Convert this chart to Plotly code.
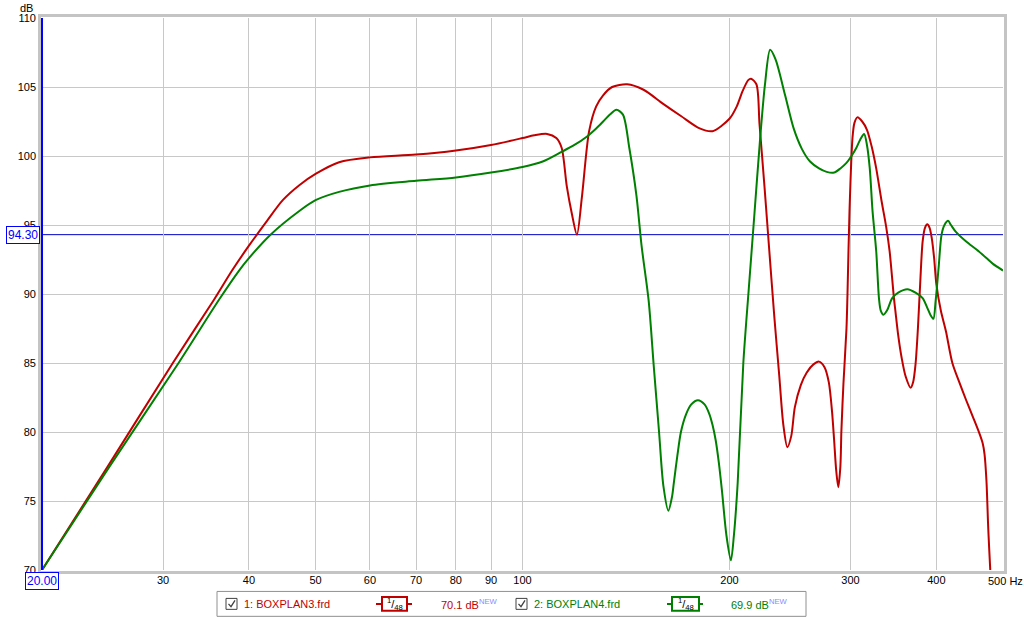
import plotly.graph_objects as go

# ---------------- data ----------------
red_freq = [20, 25, 31.0, 35.6, 37.8, 40, 42.5, 44.8, 47.4, 50, 54.1, 60, 70, 80, 90, 100, 104, 108.6,
            112, 114, 116, 118, 120, 122, 125, 128, 131, 135, 142, 150, 160, 170, 181, 189, 200, 205,
            209, 213, 215, 218.9, 221.2, 224.9, 228.6, 232.4, 236.3, 239.6, 242.8, 246, 249, 254, 259,
            265, 270, 275, 279, 282, 284, 286, 288, 290, 291, 293, 296, 297, 299, 302, 304, 307, 312,
            317, 322, 327, 333, 338, 342, 347, 349, 352, 356, 361, 367, 370, 373, 376, 379, 382, 385,
            388, 391, 394, 397, 400, 406, 413, 422, 432, 442, 452, 462, 467, 470, 473, 476, 479, 482]
red_db = [70.0, 77.6, 85.0, 89.6, 91.7, 93.5, 95.3, 96.8, 97.9, 98.7, 99.55, 99.9, 100.1, 100.4, 100.8,
          101.3, 101.5, 101.6, 101.3, 100.6, 97.8, 95.8, 94.3, 97.0, 101.8, 103.6, 104.4, 105.0, 105.2,
          104.8, 103.8, 102.9, 102.0, 101.8, 102.7, 103.6, 104.7, 105.5, 105.6, 105.2, 102.3, 97.8,
          93.1, 88.4, 84.1, 80.5, 78.9, 79.7, 81.8, 83.4, 84.3, 84.9, 85.1, 84.7, 83.6, 81.5, 79.4,
          77.2, 76.0, 77.5, 80.1, 83.5, 87.5, 90.0, 96.0, 101.3, 102.4, 102.8, 102.5, 101.9, 100.7,
          99.1, 96.7, 94.9, 93.1, 89.7, 88.6, 87.0, 85.4, 84.0, 83.2, 83.6, 84.9, 87.5, 90.9, 93.8,
          94.8, 95.05, 94.8, 94.0, 92.6, 90.7, 88.8, 87.3, 85.0, 83.6, 82.3, 81.1, 79.9, 79.2, 78.4,
          76.5, 72.9, 70.1, 67.5]

green_freq = [20, 25, 31.6, 36.2, 38.7, 40, 43.0, 47.3, 50, 54.1, 60, 70, 80, 90, 100, 107, 114, 119,
              124, 128, 131, 134, 137, 140, 143, 146.5, 149, 152.6, 155.2, 158, 160.3, 163, 165, 166,
              168, 170, 173, 176, 180, 184, 187, 189, 191, 193, 195, 198, 201, 203, 205.6, 209.5,
              213.4, 217.5, 221.6, 225.3, 229.2, 233.4, 241, 248, 255, 262, 270, 277, 284, 290, 296,
              301, 306, 310, 314, 317, 320, 323, 327, 330, 332, 335, 339, 345, 352, 363, 373, 382,
              388, 392, 396, 399, 403, 407, 411, 416, 420, 427, 442, 458, 473, 483, 500]
green_db = [70.0, 77.4, 85.0, 89.6, 91.7, 92.6, 94.3, 96.0, 96.8, 97.4, 97.87, 98.2, 98.45, 98.8, 99.2,
            99.6, 100.3, 100.8, 101.4, 102.0, 102.5, 103.0, 103.35, 103.0, 100.6, 97.1, 93.5, 89.5,
            84.8, 80.0, 76.1, 74.3, 75.3, 76.3, 78.3, 80.0, 81.3, 82.0, 82.3, 82.0, 81.3, 80.5, 79.4,
            77.8, 75.8, 72.5, 70.7, 72.5, 76.3, 84.95, 90.4, 95.85, 101.2, 105.2, 107.7, 107.0, 104.4,
            102.0, 100.5, 99.6, 99.1, 98.85, 98.8, 99.1, 99.5, 100.0, 100.6, 101.2, 101.6, 100.8,
            99.1, 96.0, 93.1, 89.7, 88.8, 88.5, 88.8, 89.7, 90.1, 90.35, 90.1, 89.7, 89.0, 88.5, 88.2,
            89.5, 91.9, 94.3, 95.0, 95.3, 95.0, 94.5, 93.8, 93.2, 92.6, 92.2, 91.7]

x_ticks = [30, 40, 50, 60, 70, 80, 90, 100, 200, 300, 400]
y_ticks = [70, 75, 80, 85, 90, 95, 100, 105, 110]
marker_level = 94.30
red_name = "1: BOXPLAN3.frd"
green_name = "2: BOXPLAN4.frd"
red_level = "70.1 dB"
green_level = "69.9 dB"

RED = "#c00000"
GREEN = "#008000"
BLUE = "#0000ff"
FONT = "Liberation Sans, Arial, sans-serif"

# plot area in pixels
L, R, T, B = 42, 1003, 16, 570


def px(X):
    return (X - L) / (R - L)


def py(Y):
    return (B - Y) / (B - T)


fig = go.Figure()
fig.add_trace(go.Scatter(x=red_freq, y=red_db, mode="lines", name=red_name,
                         line=dict(color=RED, width=2, shape="spline", smoothing=0.8),
                         showlegend=False))
fig.add_trace(go.Scatter(x=green_freq, y=green_db, mode="lines", name=green_name,
                         line=dict(color=GREEN, width=2, shape="spline", smoothing=0.8),
                         showlegend=False))

shapes = []
# marker horizontal line
shapes.append(dict(type="line", xref="paper", yref="y", x0=0, x1=1, y0=marker_level, y1=marker_level,
                   line=dict(color="#0000c0", width=1), layer="below"))
# frame
shapes.append(dict(type="rect", xref="paper", yref="paper", x0=px(39.5), x1=px(1005.5), y0=py(572.5),
                   y1=py(13.5), line=dict(color="#c4c4c4", width=3), layer="above"))
# blue left line
shapes.append(dict(type="line", xref="paper", yref="paper", x0=px(42), x1=px(42), y0=0, y1=1,
                   line=dict(color=BLUE, width=2), layer="above"))

# legend box
shapes.append(dict(type="rect", xref="paper", yref="paper", x0=px(217), x1=px(806), y0=py(616.5),
                   y1=py(591.5), line=dict(color="#909090", width=1), fillcolor="white"))

annotations = []


def checkbox(x0):
    shapes.append(dict(type="rect", xref="paper", yref="paper", x0=px(x0), x1=px(x0 + 11),
                       y0=py(609.5), y1=py(598.5), line=dict(color="#404040", width=1)))
    path = "M {} {} L {} {} L {} {}".format(px(x0 + 2.5), py(604), px(x0 + 5), py(606.8),
                                           px(x0 + 9), py(600.5))
    shapes.append(dict(type="path", xref="paper", yref="paper", path=path,
                       line=dict(color="#404040", width=1.3)))


def symbol(x_line0, x_line1, x_box0, x_box1, color):
    shapes.append(dict(type="line", xref="paper", yref="paper", x0=px(x_line0), x1=px(x_line1),
                       y0=py(604), y1=py(604), line=dict(color=color, width=2)))
    shapes.append(dict(type="rect", xref="paper", yref="paper", x0=px(x_box0), x1=px(x_box1),
                       y0=py(611), y1=py(597), line=dict(color=color, width=2), fillcolor="white"))
    annotations.append(dict(xref="paper", yref="paper", x=px((x_box0 + x_box1) / 2), y=py(604),
                            text="<sup>1</sup>/<sub>48</sub>", showarrow=False,
                            font=dict(family=FONT, size=11, color="black"),
                            xanchor="center", yanchor="middle"))


checkbox(226)
annotations.append(dict(xref="paper", yref="paper", x=px(242), y=py(604), text=red_name,
                        showarrow=False, xanchor="left", yanchor="middle",
                        font=dict(family=FONT, size=11, color=RED)))
symbol(376, 412, 382, 407, RED)
annotations.append(dict(xref="paper", yref="paper", x=px(439), y=py(604),
                        text=red_level + "<sup><span style='color:#8a8aff'>NEW</span></sup>",
                        showarrow=False, xanchor="left", yanchor="middle",
                        font=dict(family=FONT, size=11, color=RED)))
checkbox(516)
annotations.append(dict(xref="paper", yref="paper", x=px(532), y=py(604), text=green_name,
                        showarrow=False, xanchor="left", yanchor="middle",
                        font=dict(family=FONT, size=11, color=GREEN)))
symbol(667, 703, 672, 699, GREEN)
annotations.append(dict(xref="paper", yref="paper", x=px(729), y=py(604),
                        text=green_level + "<sup><span style='color:#8a8aff'>NEW</span></sup>",
                        showarrow=False, xanchor="left", yanchor="middle",
                        font=dict(family=FONT, size=11, color=GREEN)))

# axis decorations
annotations.append(dict(xref="paper", yref="paper", x=px(35), y=py(6), text="dB", showarrow=False,
                        xanchor="right", yanchor="middle", font=dict(family=FONT, size=11, color="black")))
annotations.append(dict(xref="paper", yref="paper", x=px(986), y=py(581), text="500 Hz",
                        showarrow=False, xanchor="left", yanchor="middle",
                        font=dict(family=FONT, size=11, color="black")))
annotations.append(dict(xref="paper", yref="y", x=px(40), y=marker_level, text="94.30",
                        showarrow=False, xanchor="right", yanchor="middle",
                        bordercolor=BLUE, borderwidth=1, borderpad=1, bgcolor="white",
                        font=dict(family=FONT, size=12, color=BLUE)))
annotations.append(dict(xref="paper", yref="paper", x=0, y=py(581), text="20.00",
                        showarrow=False, xanchor="center", yanchor="middle",
                        bordercolor=BLUE, borderwidth=1, borderpad=1, bgcolor="white",
                        font=dict(family=FONT, size=12, color=BLUE)))

fig.update_layout(
    width=1024, height=618,
    margin=dict(l=L, r=1024 - R, t=T, b=618 - B),
    paper_bgcolor="white", plot_bgcolor="white",
    shapes=shapes, annotations=annotations,
    font=dict(family=FONT, size=11, color="black"),
    xaxis=dict(type="log", range=[1.30103, 2.69897], tickvals=x_ticks,
               ticktext=[str(v) for v in x_ticks], showgrid=True, gridcolor="#c8c8c8", gridwidth=1,
               zeroline=False, showline=False, ticks="", ticklabelstandoff=2,
               tickfont=dict(family=FONT, size=11, color="black")),
    yaxis=dict(range=[70, 110], tickvals=y_ticks, ticktext=[str(v) for v in y_ticks],
               showgrid=True, gridcolor="#c8c8c8", gridwidth=1, zeroline=False, showline=False,
               ticks="", ticklabelstandoff=5,
               tickfont=dict(family=FONT, size=11, color="black")),
    showlegend=False,
    hovermode=False,
)

fig.write_html("out.html", config={"displayModeBar": False},
               post_script="document.body.style.margin='0px';document.body.style.overflow='hidden';")
